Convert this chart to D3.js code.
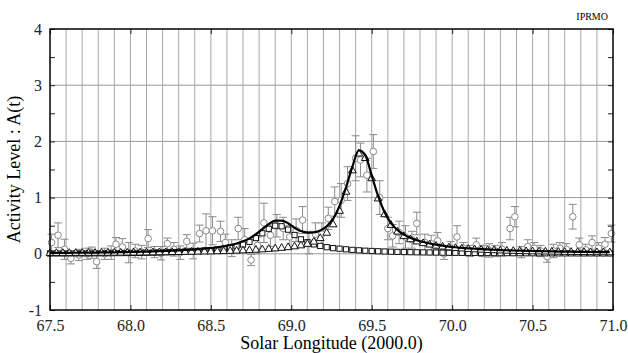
<!DOCTYPE html>
<html>
<head>
<meta charset="utf-8">
<script src="https://cdn.jsdelivr.net/npm/d3@7"></script>
<style>
  body { margin: 0; background: #fff; }
</style>
</head>
<body>
<svg id="chart" width="628" height="353"></svg>
<script>
// observed activity level, with error bars
var obsLon = [67.51,67.55,67.59,67.63,67.68,67.73,67.76,67.79,67.84,67.88,67.91,67.95,67.99,68.03,68.07,68.11,68.15,68.19,68.23,68.27,68.31,68.35,68.39,68.43,68.47,68.51,68.56,68.59,68.63,68.67,68.71,68.75,68.79,68.83,68.87,68.91,68.95,68.99,69.03,69.07,69.11,69.15,69.19,69.23,69.27,69.31,69.35,69.40,69.43,69.47,69.51,69.55,69.60,69.63,69.67,69.71,69.75,69.78,69.83,69.87,69.91,69.95,69.99,70.03,70.07,70.11,70.15,70.19,70.23,70.27,70.31,70.36,70.39,70.43,70.47,70.51,70.55,70.59,70.63,70.67,70.71,70.75,70.79,70.83,70.87,70.91,70.95,70.99];
var obsA   = [0.20,0.33,0.08,-0.08,-0.02,0.00,0.02,-0.14,0.00,0.02,0.17,0.12,0.02,0.05,0.03,0.27,0.03,0.01,0.18,0.08,0.02,0.22,0.05,0.36,0.41,0.41,0.40,0.20,0.10,0.45,0.25,-0.11,0.15,0.55,0.33,0.50,0.45,0.30,0.42,0.60,0.20,0.35,0.35,0.63,0.93,0.95,1.25,1.70,1.67,1.40,1.82,1.00,0.45,0.32,0.38,0.30,0.25,0.54,0.20,0.18,0.23,0.00,0.10,0.30,0.10,0.05,0.16,0.05,0.06,0.05,0.08,0.45,0.66,0.03,0.13,0.10,0.05,-0.05,0.05,0.10,0.08,0.66,0.16,0.07,0.20,0.10,0.17,0.36];
var obsErr = [0.15,0.22,0.18,0.10,0.10,0.10,0.10,0.12,0.10,0.12,0.12,0.15,0.18,0.12,0.12,0.16,0.10,0.12,0.10,0.12,0.12,0.12,0.14,0.15,0.30,0.25,0.18,0.15,0.15,0.20,0.20,0.10,0.15,0.35,0.20,0.20,0.20,0.20,0.20,0.24,0.20,0.20,0.20,0.20,0.26,0.30,0.30,0.40,0.30,0.30,0.30,0.30,0.20,0.20,0.20,0.20,0.15,0.20,0.15,0.15,0.15,0.10,0.12,0.20,0.10,0.10,0.12,0.10,0.12,0.10,0.12,0.20,0.18,0.10,0.12,0.10,0.10,0.10,0.12,0.10,0.10,0.22,0.12,0.10,0.12,0.10,0.12,0.15];

// model: two components and their sum
var fitLon = [67.50,67.54,67.58,67.62,67.66,67.70,67.74,67.78,67.82,67.86,67.90,67.94,67.98,68.02,68.06,68.10,68.14,68.18,68.22,68.26,68.30,68.34,68.38,68.42,68.46,68.50,68.54,68.58,68.62,68.66,68.70,68.74,68.78,68.82,68.86,68.90,68.94,68.98,69.02,69.06,69.10,69.14,69.18,69.22,69.26,69.30,69.34,69.38,69.42,69.46,69.50,69.54,69.58,69.62,69.66,69.70,69.74,69.78,69.82,69.86,69.90,69.94,69.98,70.02,70.06,70.10,70.14,70.18,70.22,70.26,70.30,70.34,70.38,70.42,70.46,70.50,70.54,70.58,70.62,70.66,70.70,70.74,70.78,70.82,70.86,70.90,70.94,70.98];
var fitComp1 = [0.005,0.006,0.006,0.007,0.007,0.008,0.008,0.009,0.010,0.011,0.012,0.013,0.014,0.015,0.017,0.019,0.021,0.024,0.027,0.030,0.034,0.038,0.043,0.049,0.056,0.065,0.076,0.090,0.108,0.132,0.165,0.212,0.280,0.365,0.445,0.500,0.490,0.430,0.335,0.258,0.205,0.168,0.140,0.118,0.101,0.091,0.080,0.070,0.062,0.055,0.050,0.045,0.041,0.037,0.034,0.031,0.029,0.027,0.025,0.023,0.022,0.020,0.019,0.018,0.017,0.016,0.015,0.014,0.014,0.013,0.012,0.012,0.011,0.011,0.010,0.010,0.009,0.009,0.009,0.008,0.008,0.008,0.007,0.007,0.007,0.007,0.006,0.006];
var fitComp2 = [0.010,0.010,0.011,0.011,0.012,0.012,0.013,0.013,0.014,0.015,0.015,0.016,0.017,0.018,0.019,0.020,0.021,0.023,0.024,0.026,0.028,0.030,0.032,0.035,0.036,0.038,0.041,0.044,0.048,0.052,0.057,0.062,0.068,0.075,0.083,0.092,0.102,0.114,0.128,0.146,0.172,0.212,0.275,0.370,0.520,0.760,1.100,1.480,1.780,1.700,1.340,0.980,0.700,0.510,0.390,0.310,0.255,0.215,0.185,0.160,0.140,0.124,0.110,0.099,0.090,0.082,0.075,0.069,0.064,0.059,0.055,0.051,0.048,0.045,0.042,0.040,0.038,0.036,0.034,0.032,0.030,0.029,0.027,0.026,0.025,0.024,0.023,0.022];
var fitTotal = [0.015,0.016,0.017,0.018,0.019,0.020,0.021,0.022,0.024,0.026,0.027,0.029,0.031,0.033,0.036,0.039,0.042,0.047,0.051,0.056,0.062,0.068,0.075,0.084,0.092,0.103,0.117,0.134,0.156,0.184,0.222,0.274,0.348,0.440,0.528,0.592,0.592,0.544,0.463,0.404,0.377,0.380,0.415,0.488,0.621,0.851,1.180,1.550,1.842,1.755,1.390,1.025,0.741,0.547,0.424,0.341,0.284,0.242,0.210,0.183,0.162,0.144,0.129,0.117,0.107,0.098,0.090,0.083,0.078,0.072,0.067,0.063,0.059,0.056,0.052,0.050,0.047,0.045,0.043,0.040,0.038,0.037,0.034,0.033,0.032,0.031,0.029,0.028];

var xTicks = [67.5, 68.0, 68.5, 69.0, 69.5, 70.0, 70.5, 71.0];
var yTicks = [-1, 0, 1, 2, 3, 4];

var serif = "'Liberation Serif', 'DejaVu Serif', serif";

var margin = {top: 29, right: 15, bottom: 43, left: 50},
    width = 628 - margin.left - margin.right,
    height = 353 - margin.top - margin.bottom;

var svg = d3.select("#chart");
var g = svg.append("g")
    .attr("transform", "translate(" + margin.left + "," + margin.top + ")");

var x = d3.scaleLinear().domain([67.5, 71.0]).range([0, width]);
var y = d3.scaleLinear().domain([-1, 4]).range([height, 0]);

// grid
g.append("g").selectAll("line.vg")
    .data(d3.range(1, 35).map(function(i) { return 67.5 + i * 0.1; }))
    .enter().append("line")
    .attr("x1", function(d) { return x(d); })
    .attr("x2", function(d) { return x(d); })
    .attr("y1", 0).attr("y2", height)
    .attr("stroke", "#a8a8a8").attr("stroke-width", 1);

g.append("g").selectAll("line.hg")
    .data([0, 1, 2, 3])
    .enter().append("line")
    .attr("x1", 0).attr("x2", width)
    .attr("y1", function(d) { return y(d); })
    .attr("y2", function(d) { return y(d); })
    .attr("stroke", "#999").attr("stroke-width", 1);

// axes, ticks inward
var xAxisB = d3.axisBottom(x).tickValues(xTicks).tickSize(-5).tickPadding(10).tickFormat(d3.format(".1f"));
var xAxisT = d3.axisTop(x).tickValues(xTicks).tickSize(-5).tickFormat("");
var yAxisL = d3.axisLeft(y).tickValues(d3.range(-1, 4.01, 0.5)).tickSize(-5).tickPadding(8)
    .tickFormat(function(d) { return yTicks.indexOf(d) >= 0 ? d : ""; });
var yAxisR = d3.axisRight(y).tickValues(d3.range(-1, 4.01, 0.5)).tickSize(-5).tickFormat("");

function styleAxis(sel) {
    sel.attr("font-family", serif);
    sel.select(".domain").remove();
    sel.selectAll(".tick line").attr("stroke", "#222").attr("stroke-width", 1);
    sel.selectAll(".tick text").attr("font-size", 16).attr("fill", "#222")
        .style("font-family", serif);
}
g.append("g").attr("transform", "translate(0," + height + ")").call(xAxisB).call(styleAxis);
g.append("g").call(xAxisT).call(styleAxis);
g.append("g").call(yAxisL).call(styleAxis);
g.append("g").attr("transform", "translate(" + width + ",0)").call(yAxisR).call(styleAxis);

// observed points with error bars
var obs = obsLon.map(function(d, i) { return {lon: d, a: obsA[i], e: obsErr[i]}; });
var og = g.append("g").attr("stroke", "#8a8a8a").attr("stroke-width", 1);
og.selectAll("line.eb").data(obs).enter().append("line")
    .attr("x1", function(d) { return x(d.lon); }).attr("x2", function(d) { return x(d.lon); })
    .attr("y1", function(d) { return y(d.a - d.e); }).attr("y2", function(d) { return y(d.a + d.e); });
og.selectAll("line.ct").data(obs).enter().append("line")
    .attr("x1", function(d) { return x(d.lon) - 4; }).attr("x2", function(d) { return x(d.lon) + 4; })
    .attr("y1", function(d) { return y(d.a + d.e); }).attr("y2", function(d) { return y(d.a + d.e); });
og.selectAll("line.cb").data(obs).enter().append("line")
    .attr("x1", function(d) { return x(d.lon) - 4; }).attr("x2", function(d) { return x(d.lon) + 4; })
    .attr("y1", function(d) { return y(d.a - d.e); }).attr("y2", function(d) { return y(d.a - d.e); });
og.selectAll("circle").data(obs).enter().append("circle")
    .attr("cx", function(d) { return x(d.lon); })
    .attr("cy", function(d) { return y(d.a); })
    .attr("r", 3.3).attr("fill", "#fff");

// fitted components
var fit = fitLon.map(function(d, i) { return {lon: d, c1: fitComp1[i], c2: fitComp2[i], t: fitTotal[i]}; });

g.append("g").selectAll("rect").data(fit).enter().append("rect")
    .attr("x", function(d) { return x(d.lon) - 2.6; })
    .attr("y", function(d) { return y(d.c1) - 2.6; })
    .attr("width", 5.2).attr("height", 5.2)
    .attr("fill", "#fff").attr("stroke", "#111").attr("stroke-width", 1);

var tri = d3.symbol().type(d3.symbolTriangle).size(26);
g.append("g").selectAll("path").data(fit).enter().append("path")
    .attr("d", tri)
    .attr("transform", function(d) { return "translate(" + x(d.lon) + "," + y(d.c2) + ")"; })
    .attr("fill", "#fff").attr("stroke", "#111").attr("stroke-width", 1);

var line = d3.line()
    .x(function(d) { return x(d.lon); })
    .y(function(d) { return y(d.t); })
    .curve(d3.curveMonotoneX);
g.append("path").datum(fit)
    .attr("d", line)
    .attr("fill", "none").attr("stroke", "#000").attr("stroke-width", 2.2);

// frame
g.append("rect").attr("width", width).attr("height", height)
    .attr("fill", "none").attr("stroke", "#000").attr("stroke-width", 1.5);

// labels
svg.append("text")
    .attr("transform", "translate(20," + (margin.top + height / 2) + ") rotate(-90)")
    .attr("text-anchor", "middle")
    .attr("font-size", 18)
    .style("font-family", serif)
    .text("Activity Level : A(t)");

svg.append("text")
    .attr("x", margin.left + width / 2).attr("y", 349)
    .attr("text-anchor", "middle")
    .attr("font-size", 18)
    .style("font-family", serif)
    .text("Solar Longitude (2000.0)");

svg.append("text")
    .attr("x", 608).attr("y", 20)
    .attr("text-anchor", "end")
    .attr("font-size", 10)
    .style("font-family", serif)
    .text("IPRMO");
</script>
</body>
</html>
